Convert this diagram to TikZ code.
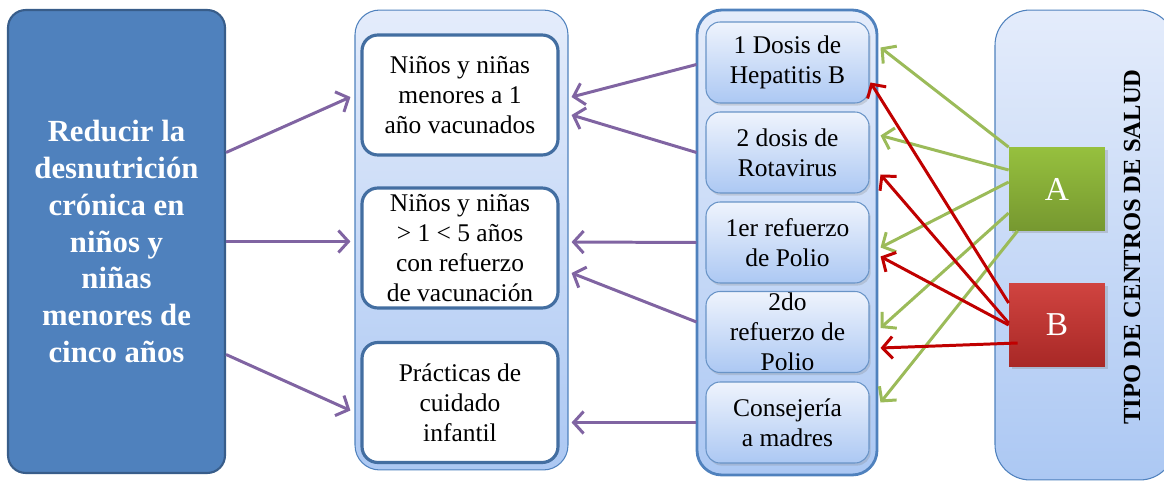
\documentclass[tikz,border=0pt]{standalone}
\usepackage{fontspec}
\setmainfont{Liberation Serif}
\usetikzlibrary{arrows.meta,calc,shadows}
\definecolor{goalclr}{RGB}{79,129,189}
\definecolor{goaledge}{RGB}{56,93,138}
\definecolor{frameclr}{RGB}{79,129,189}
\definecolor{paletop}{RGB}{228,236,251}
\definecolor{palebot}{RGB}{172,200,243}
\definecolor{linkclr}{RGB}{128,100,162}
\definecolor{aclr}{RGB}{155,187,89}
\definecolor{atop}{RGB}{150,192,62}
\definecolor{abot}{RGB}{118,152,48}
\definecolor{btop}{RGB}{208,68,64}
\definecolor{bbot}{RGB}{168,40,38}
\definecolor{bline}{RGB}{192,0,0}
\tikzset{
    goal/.style={rectangle,draw=goaledge,line width=1.2pt,fill=goalclr,rounded corners=10pt,minimum width=4.34cm,minimum height=9.26cm,text=white,align=center,font=\fontsize{17.5}{21}\selectfont\bfseries},
    frame/.style={rectangle,draw=frameclr,semithick,top color=paletop,bottom color=palebot,rounded corners=14pt},
    res/.style={rectangle,draw=frameclr!85!black,line width=1.8pt,fill=white,rounded corners=9pt,minimum width=3.92cm,minimum height=2.4cm,inner sep=0pt,align=center,font=\fontsize{14.5}{17}\selectfont},
    dose/.style={rectangle,draw=frameclr!85,semithick,top color=paletop!60!white,bottom color=palebot,rounded corners=8pt,minimum width=3.26cm,minimum height=1.62cm,inner sep=0pt,align=center,font=\fontsize{14.5}{17}\selectfont,drop shadow={opacity=0.25,shadow xshift=1pt,shadow yshift=-1.5pt}},
    tipo/.style={rectangle,minimum width=1.92cm,minimum height=1.66cm,text=white,font=\fontsize{19}{22}\selectfont,drop shadow={opacity=0.3,shadow xshift=1.5pt,shadow yshift=-1.5pt}},
    link/.style={-{Straight Barb[length=2mm,width=4.4mm]},line width=1.7pt,draw=linkclr},
    alink/.style={link,draw=aclr},
    blink/.style={link,draw=bline},
}
\begin{document}
\begin{tikzpicture}[x=0.02cm,y=-0.02cm]
\useasboundingbox (0,0) rectangle (1164,483);
\node[goal] (Goal) at (116.5,241.5) {Reducir la\\desnutrición\\crónica en\\niños y\\niñas\\menores de\\cinco años};

\node[frame,minimum width=4.26cm,minimum height=9.2cm] (ResBox) at (461.5,240) {};
\node[res] (Res1) at (460,95)  {Niños y niñas\\menores a 1\\año vacunados};
\node[res] (Res2) at (460,248) {Niños y niñas\\> 1 < 5 años\\con refuerzo\\de vacunación};
\node[res] (Res3) at (460,402.5) {Prácticas de\\cuidado\\infantil};

\node[frame,draw=frameclr,line width=1.6pt,minimum width=3.6cm,minimum height=9.3cm] (DosBox) at (787,242.5) {};
\node[dose] (Dos1) at (787.5,62.5)  {1 Dosis de\\Hepatitis B};
\node[dose] (Dos2) at (787.5,152.5) {2 dosis de\\Rotavirus};
\node[dose] (Dos3) at (787.5,242.5) {1er refuerzo\\de Polio};
\node[dose] (Dos4) at (787.5,332)   {2do\\refuerzo de\\Polio};
\node[dose] (Dos5) at (787.5,422.5) {Consejería\\a madres};

\node[frame,rounded corners=20pt,minimum width=3.6cm,minimum height=9.4cm] (TipoBox) at (1085,245) {};
\node[rotate=90,font=\fontsize{14}{17}\selectfont\bfseries] (TipoLbl) at (1132,247) {TIPO DE CENTROS DE SALUD};

\draw[link] ($(Goal.east)+(0,-89)$) -- ($(Res1.west)+(-10,2)$);
\draw[link] (Goal.east) -- ($(Goal.east -| Res2.west)+(-10,0)$);
\draw[link] ($(Goal.east)+(0,113)$) -- ($(Res3.west)+(-10,8)$);

\draw[link] ($(Dos1.west)+(-9,2)$) -- ($(Res1.east)+(12,2)$);
\draw[link] ($(Dos2.west)+(-9,0)$) -- ($(Res1.east)+(12,20)$);
\draw[link] ($(Dos3.west)+(-9,0)$) -- ($(Res2.east)+(12,-6)$);
\draw[link] ($(Dos4.west)+(-9,-10)$) -- ($(Res2.east)+(12,25)$);
\draw[link] ($(Dos5.west)+(-9,0)$) -- ($(Res3.east)+(12,20)$);

\node[tipo,top color=atop,bottom color=abot] (TipoA) at (1057,189) {A};
\node[tipo,top color=btop,bottom color=bbot] (TipoB) at (1057,325) {B};

\draw[alink] (TipoA.north west) -- ($(Dos1.east)+(11,-15)$);
\draw[alink] ($(TipoA.west)+(0,-19)$) -- ($(Dos2.east)+(11,-17)$);
\draw[alink] ($(TipoA.west)+(0,-7)$) -- ($(Dos3.east)+(11,5)$);
\draw[alink] ($(TipoA.west)+(0,24)$) -- ($(Dos4.east)+(11,-4)$);
\draw[alink] ($(TipoA.south west)+(9,0)$) -- ($(Dos5.east)+(11,-20)$);

\draw[blink] ($(TipoB.west)+(0,-22)$) -- ($(Dos1.east)+(1,20)$);
\draw[blink] ($(TipoB.west)+(0,-2)$) -- ($(Dos2.east)+(11,22)$);
\draw[blink] (TipoB.west) -- ($(Dos3.east)+(11,14)$);
\draw[blink] ($(TipoB.west)+(9,18)$) -- ($(Dos4.east)+(11,16)$);
\end{tikzpicture}
\end{document}
